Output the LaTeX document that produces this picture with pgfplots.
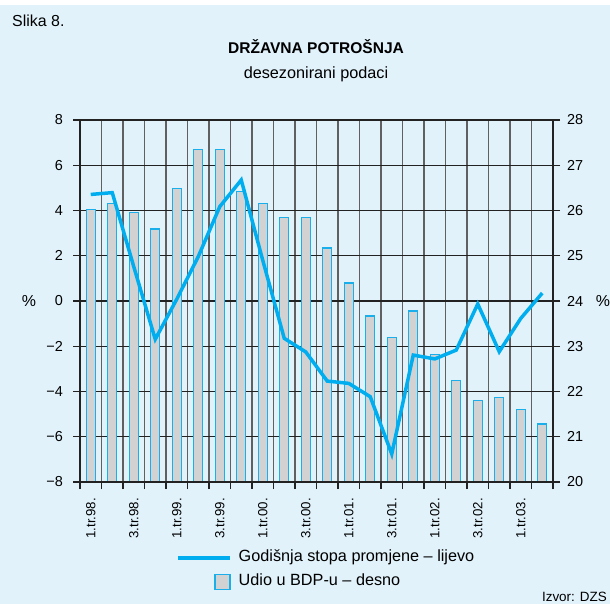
\documentclass[border=0pt]{standalone}
\usepackage{pgfplots}
\pgfplotsset{compat=1.18}
\usepackage{fontspec}
\setmainfont{Liberation Sans}
\definecolor{bgblue}{HTML}{E1F2FB}
\definecolor{barfill}{HTML}{D2D2D2}
\definecolor{barcyan}{HTML}{1AAFEA}
\definecolor{linecyan}{HTML}{00AEEF}
\definecolor{axisblack}{HTML}{222222}
\definecolor{vgrid}{HTML}{606060}
\pgfplotstableread{
idx share
0 26.03
1 26.16
2 25.95
3 25.59
4 26.48
5 27.35
6 27.35
7 26.42
8 26.15
9 25.85
10 25.85
11 25.17
12 24.40
13 23.67
14 23.20
15 23.78
16 22.82
17 22.25
18 21.81
19 21.86
20 21.60
21 21.28
}\shares
\pgfplotstableread{
idx rate
0 4.71
1 4.79
2 1.52
3 -1.69
4 0.08
5 1.96
6 4.17
7 5.35
8 1.80
9 -1.65
10 -2.25
11 -3.54
12 -3.64
13 -4.23
14 -6.76
15 -2.39
16 -2.56
17 -2.17
18 -0.13
19 -2.24
20 -0.77
21 0.35
}\rates
\begin{document}
\begin{tikzpicture}
\path[use as bounding box] (0,0) rectangle (610bp,-604bp);
\fill[white] (0,0) rectangle (610bp,-604bp);
\fill[bgblue] (0,-5bp) rectangle (610bp,-604bp);
\node[anchor=base west, inner sep=0pt, font=\fontsize{16}{19}\selectfont] at (12bp,-26bp) {Slika 8.};
\node[anchor=base, inner sep=0pt, font=\fontsize{15.6}{19}\selectfont\bfseries] at (316bp,-53bp) {DRŽAVNA POTROŠNJA};
\node[anchor=base, inner sep=0pt, font=\fontsize{16.3}{19}\selectfont] at (316bp,-78bp) {desezonirani podaci};
\node[inner sep=0pt, font=\fontsize{16}{19}\selectfont] at (29bp,-301bp) {\%};
\node[inner sep=0pt, font=\fontsize{16}{19}\selectfont] at (603bp,-301bp) {\%};
\node[anchor=base east, inner sep=0pt, font=\fontsize{13.5}{16}\selectfont] at (607bp,-601bp) {Izvor: DZS};
% Right axis: bars
\begin{axis}[
  at={(80bp,-482bp)}, anchor=south west,
  scale only axis, width=473bp, height=362bp,
  xmin=-0.5, xmax=21.5, ymin=20, ymax=28,
  enlargelimits=false,
  axis x line*=bottom, axis y line*=right,
  axis line style={-, line width=2bp, color=axisblack},
  xtick={-0.5,0.5,...,21.5}, xticklabels={},
  ytick={20,21,...,28}, yticklabels={20,21,22,23,24,25,26,27,28},
  tick align=outside, major tick length=7bp,
  tick style={line width=1.2bp, color=axisblack},
  xmajorgrids, ymajorgrids,
  x grid style={line width=1.1bp, color=vgrid},
  y grid style={line width=1.2bp, color=axisblack},
  yticklabel style={font=\fontsize{14.5}{16}\selectfont, inner sep=0pt, xshift=7bp},
]
\addplot[ybar, bar width=9bp, bar shift=0pt, fill=barfill, draw=barcyan, line width=1.2bp] table[x=idx, y=share] {\shares};
\end{axis}
% Left axis: line
\begin{axis}[
  at={(80bp,-482bp)}, anchor=south west,
  scale only axis, width=473bp, height=362bp,
  xmin=-0.5, xmax=21.5, ymin=-8, ymax=8,
  enlargelimits=false,
  axis x line*=bottom, axis y line*=left,
  axis line style={-, line width=2bp, color=axisblack},
  xtick={0,2,...,20},
  xticklabels={1.tr.98.,3.tr.98.,1.tr.99.,3.tr.99.,1.tr.00.,3.tr.00.,1.tr.01.,3.tr.01.,1.tr.02.,3.tr.02.,1.tr.03.},
  x tick style={draw=none},
  xticklabel style={rotate=90, anchor=east, inner sep=0pt, font=\fontsize{13.3}{15}\selectfont, xshift=-9bp},
  ytick={-8,-6,...,8}, yticklabels={−8,−6,−4,−2,0,2,4,6,8},
  tick align=outside, major tick length=7bp,
  y tick style={line width=1.2bp, color=axisblack},
  yticklabel style={font=\fontsize{14.5}{16}\selectfont, inner sep=0pt, xshift=-10bp},
  legend style={at={(axis description cs:0.2030,-0.2430)}, anchor=west, draw=none, fill=none, inner sep=0pt, row sep=8bp, column sep=7bp, font=\fontsize{16.3}{19}\selectfont, nodes={inner sep=0pt, text height=12bp, text depth=4bp}},
  legend cell align=left,
]
\addplot[color=linecyan, line width=3.5bp, line join=miter, no markers,
  legend image code/.code={\draw[color=linecyan, line width=3.5bp] (0bp,0bp) -- (52bp,0bp);}] table[x=idx, y=rate] {\rates};
\addlegendentry{Godišnja stopa promjene – lijevo}
\addlegendimage{legend image code/.code={\path[draw=none] (0bp,0bp) -- (52bp,0bp); \draw[fill=barfill, draw=barcyan, line width=1.2bp] (37bp,-7.5bp) rectangle (52bp,7.5bp);}}
\addlegendentry{Udio u BDP-u – desno}
\end{axis}
\end{tikzpicture}
\end{document}
